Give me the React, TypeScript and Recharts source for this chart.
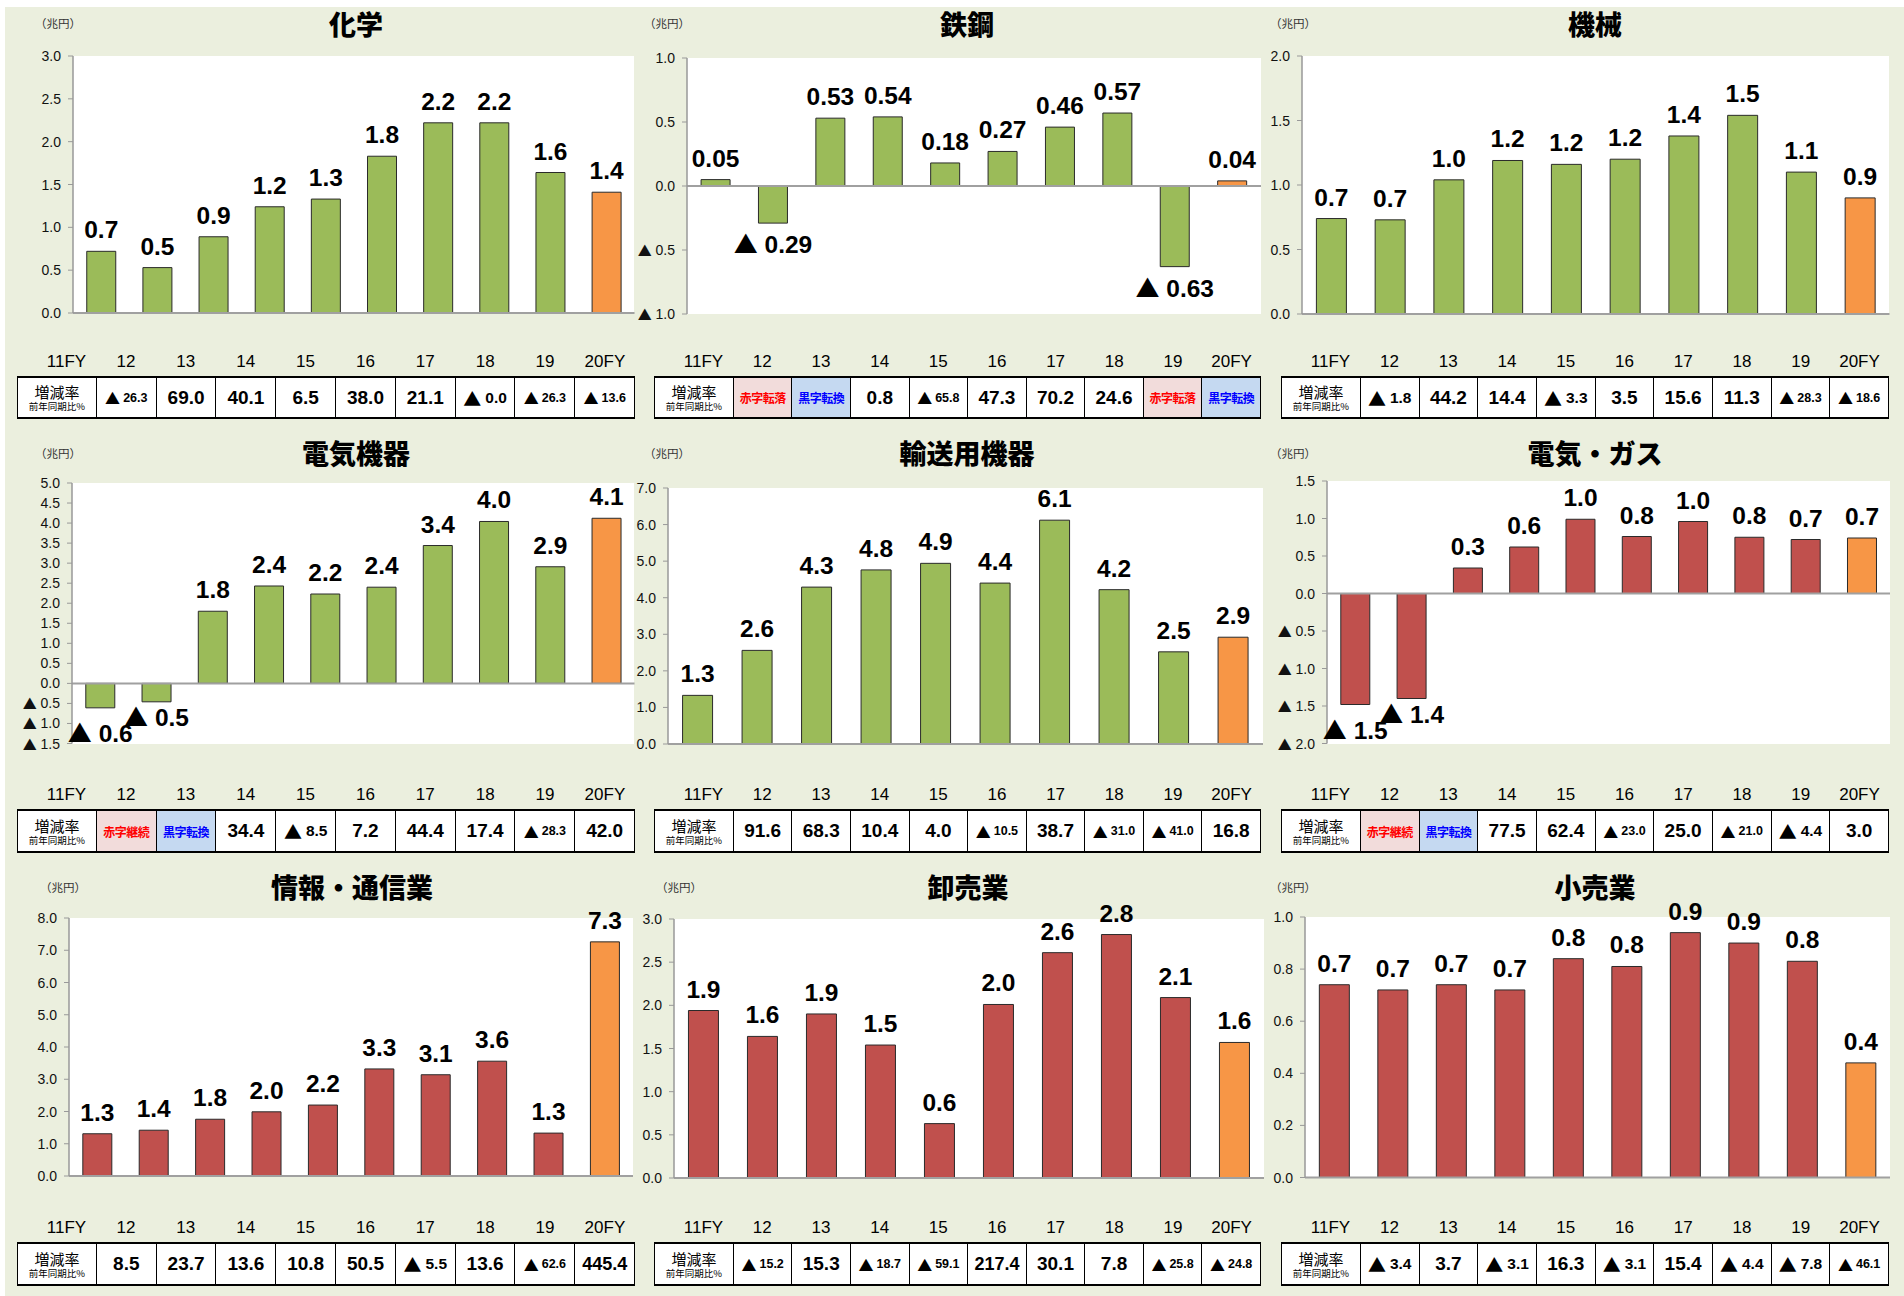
import React from 'react';
import { BarChart, Bar, XAxis, YAxis, Cell, LabelList, ReferenceLine } from 'recharts';

// ---------------- data ----------------
const years = ['11FY', '12', '13', '14', '15', '16', '17', '18', '19', '20FY'];

const chemicalValues = [0.72, 0.53, 0.89, 1.24, 1.33, 1.83, 2.22, 2.22, 1.64, 1.41];
const chemicalGrowth = ['▲ 26.3', '69.0', '40.1', '6.5', '38.0', '21.1', '▲ 0.0', '▲ 26.3', '▲ 13.6'];
const chemicalTicks = [0, 0.5, 1.0, 1.5, 2.0, 2.5, 3.0];

const steelValues = [0.05, -0.29, 0.53, 0.54, 0.18, 0.27, 0.46, 0.57, -0.63, 0.04];
const steelGrowth = ['赤字転落', '黒字転換', '0.8', '▲ 65.8', '47.3', '70.2', '24.6', '赤字転落', '黒字転換'];
const steelTicks = [-1.0, -0.5, 0, 0.5, 1.0];

const machineryValues = [0.74, 0.73, 1.04, 1.19, 1.16, 1.2, 1.38, 1.54, 1.1, 0.9];
const machineryGrowth = ['▲ 1.8', '44.2', '14.4', '▲ 3.3', '3.5', '15.6', '11.3', '▲ 28.3', '▲ 18.6'];
const machineryTicks = [0, 0.5, 1.0, 1.5, 2.0];

const electricValues = [-0.61, -0.46, 1.8, 2.43, 2.23, 2.4, 3.44, 4.04, 2.91, 4.12];
const electricGrowth = ['赤字継続', '黒字転換', '34.4', '▲ 8.5', '7.2', '44.4', '17.4', '▲ 28.3', '42.0'];
const electricTicks = [-1.5, -1.0, -0.5, 0, 0.5, 1.0, 1.5, 2.0, 2.5, 3.0, 3.5, 4.0, 4.5, 5.0];

const transportValues = [1.33, 2.56, 4.29, 4.76, 4.94, 4.4, 6.12, 4.22, 2.52, 2.92];
const transportGrowth = ['91.6', '68.3', '10.4', '4.0', '▲ 10.5', '38.7', '▲ 31.0', '▲ 41.0', '16.8'];
const transportTicks = [0, 1, 2, 3, 4, 5, 6, 7];

const utilityValues = [-1.48, -1.4, 0.34, 0.62, 0.99, 0.76, 0.96, 0.75, 0.72, 0.74];
const utilityGrowth = ['赤字継続', '黒字転換', '77.5', '62.4', '▲ 23.0', '25.0', '▲ 21.0', '▲ 4.4', '3.0'];
const utilityTicks = [-2.0, -1.5, -1.0, -0.5, 0, 0.5, 1.0, 1.5];

const ictValues = [1.31, 1.42, 1.76, 1.99, 2.2, 3.32, 3.14, 3.56, 1.33, 7.26];
const ictGrowth = ['8.5', '23.7', '13.6', '10.8', '50.5', '▲ 5.5', '13.6', '▲ 62.6', '445.4'];
const ictTicks = [0, 1, 2, 3, 4, 5, 6, 7, 8];

const wholesaleValues = [1.94, 1.64, 1.9, 1.54, 0.63, 2.01, 2.61, 2.82, 2.09, 1.57];
const wholesaleGrowth = ['▲ 15.2', '15.3', '▲ 18.7', '▲ 59.1', '217.4', '30.1', '7.8', '▲ 25.8', '▲ 24.8'];
const wholesaleTicks = [0, 0.5, 1.0, 1.5, 2.0, 2.5, 3.0];

const retailValues = [0.74, 0.72, 0.74, 0.72, 0.84, 0.81, 0.94, 0.9, 0.83, 0.44];
const retailGrowth = ['▲ 3.4', '3.7', '▲ 3.1', '16.3', '▲ 3.1', '15.4', '▲ 4.4', '▲ 7.8', '▲ 46.1'];
const retailTicks = [0, 0.2, 0.4, 0.6, 0.8, 1.0];

const panelTitles = ['化学', '鉄鋼', '機械', '電気機器', '輸送用機器', '電気・ガス', '情報・通信業', '卸売業', '小売業'];

// ---------------- styles ----------------
const GREEN = '#9BBB59';
const RED = '#C0504D';
const ORANGE = '#F79646';
const BG = '#EBEFDE';
const NUM = '"Liberation Sans", Arial, sans-serif';
const JP = '"Noto Sans CJK JP", "Noto Sans", sans-serif';

type Panel = { title: string; values: number[]; growth: string[]; ticks: number[]; decimals: number; color: string };

const panels: Panel[] = [
  { title: panelTitles[0], values: chemicalValues, growth: chemicalGrowth, ticks: chemicalTicks, decimals: 1, color: GREEN },
  { title: panelTitles[1], values: steelValues, growth: steelGrowth, ticks: steelTicks, decimals: 2, color: GREEN },
  { title: panelTitles[2], values: machineryValues, growth: machineryGrowth, ticks: machineryTicks, decimals: 1, color: GREEN },
  { title: panelTitles[3], values: electricValues, growth: electricGrowth, ticks: electricTicks, decimals: 1, color: GREEN },
  { title: panelTitles[4], values: transportValues, growth: transportGrowth, ticks: transportTicks, decimals: 1, color: GREEN },
  { title: panelTitles[5], values: utilityValues, growth: utilityGrowth, ticks: utilityTicks, decimals: 1, color: RED },
  { title: panelTitles[6], values: ictValues, growth: ictGrowth, ticks: ictTicks, decimals: 1, color: RED },
  { title: panelTitles[7], values: wholesaleValues, growth: wholesaleGrowth, ticks: wholesaleTicks, decimals: 1, color: RED },
  { title: panelTitles[8], values: retailValues, growth: retailGrowth, ticks: retailTicks, decimals: 1, color: RED },
];

type Layout = {
  plotL: number; plotR: number; plotT: number; plotB: number;
  titleX: number; titleY: number; unitX: number; unitY: number;
  labelY: number; tableL: number; tableR: number; tableT: number; tableB: number;
  negGap?: number[]; // distance (px) from a negative bar's end to its label baseline, per bar
};

const row1 = { titleY: 24, unitY: 23, labelY: 362, tableT: 376, tableB: 419 };
const row2 = { titleY: 453, unitY: 453, labelY: 795, tableT: 809, tableB: 853 };
const row3 = { titleY: 887, unitY: 887, labelY: 1228, tableT: 1242, tableB: 1286 };

const staggered = [34, 24, 30, 30, 30, 30, 30, 30, 30, 30];

const layouts: Layout[] = [
  { ...row1, plotL: 72.5, plotR: 634, plotT: 56, plotB: 313, titleX: 356, unitX: 35, tableL: 17, tableR: 635 },
  { ...row1, plotL: 687, plotR: 1261, plotT: 58, plotB: 314, titleX: 967, unitX: 644, tableL: 654, tableR: 1261 },
  { ...row1, plotL: 1301.5, plotR: 1889, plotT: 56, plotB: 314, titleX: 1595, unitX: 1270, tableL: 1281, tableR: 1889 },
  { ...row2, plotL: 71.5, plotR: 634, plotT: 483, plotB: 743.5, titleX: 356, unitX: 35, tableL: 17, tableR: 635, negGap: staggered },
  { ...row2, plotL: 668, plotR: 1263, plotT: 488, plotB: 744, titleX: 967, unitX: 644, tableL: 654, tableR: 1261 },
  { ...row2, plotL: 1327, plotR: 1890, plotT: 481, plotB: 743.5, titleX: 1595, unitX: 1270, tableL: 1281, tableR: 1889, negGap: staggered },
  { ...row3, plotL: 69, plotR: 633, plotT: 918, plotB: 1176, titleX: 352, unitX: 40, tableL: 17, tableR: 635 },
  { ...row3, plotL: 674, plotR: 1264, plotT: 919, plotB: 1178, titleX: 968, unitX: 656, tableL: 654, tableR: 1261 },
  { ...row3, plotL: 1305, plotR: 1890, plotT: 917, plotB: 1177.5, titleX: 1595, unitX: 1270, tableL: 1281, tableR: 1889 },
];

function GrowthCell({ text, width }: { text: string; width: number }) {
  const base: React.CSSProperties = {
    width, height: '100%', borderRight: '1px solid #000', boxSizing: 'border-box',
    display: 'flex', alignItems: 'center', justifyContent: 'center',
    fontFamily: NUM, fontWeight: 700, color: '#000', background: '#fff', whiteSpace: 'nowrap',
  };
  if (text === '赤字転落' || text === '赤字継続') {
    return <div style={{ ...base, background: '#F2DCDB', color: '#FF0000', fontFamily: JP, fontSize: 12, letterSpacing: -0.5 }}>{text}</div>;
  }
  if (text === '黒字転換') {
    return <div style={{ ...base, background: '#C5D9F1', color: '#0000FF', fontFamily: JP, fontSize: 12, letterSpacing: -0.5 }}>{text}</div>;
  }
  if (text.startsWith('▲')) {
    const num = text.replace('▲', '').trim();
    const small = num.length >= 4;
    return (
      <div style={base}>
        <span style={{ fontSize: small ? 15 : 18, fontFamily: JP }}>▲</span>
        <span style={{ fontSize: small ? 12.5 : 15.5, marginLeft: small ? 3 : 4 }}>{num}</span>
      </div>
    );
  }
  return <div style={{ ...base, fontSize: text.length >= 5 ? 18 : 19 }}>{text}</div>;
}

function GrowthTable({ l, growth }: { l: Layout; growth: string[] }) {
  const total = l.tableR - l.tableL;
  const firstW = 79;
  const colW = (total - firstW) / 9;
  return (
    <>
      <div style={{ position: 'absolute', left: l.tableL, top: l.labelY - 12, width: total, height: 24, display: 'flex' }}>
        {years.map((y, i) => (
          <div key={y} style={{
            width: i === 0 ? firstW : colW, boxSizing: 'border-box', paddingLeft: i === 0 ? 20 : 0,
            textAlign: 'center', fontFamily: NUM, fontSize: 17, lineHeight: '24px', color: '#000',
          }}>{y}</div>
        ))}
      </div>
      <div style={{
        position: 'absolute', left: l.tableL, top: l.tableT, width: total, height: l.tableB - l.tableT,
        display: 'flex', borderTop: '2px solid #000', borderBottom: '2px solid #000', borderLeft: '1px solid #000',
        boxSizing: 'border-box', background: '#fff',
      }}>
        <div style={{
          width: firstW, height: '100%', borderRight: '1px solid #000', boxSizing: 'border-box',
          display: 'flex', flexDirection: 'column', alignItems: 'center', justifyContent: 'center', fontFamily: JP, color: '#000',
        }}>
          <div style={{ fontSize: 15, lineHeight: '17px' }}>増減率</div>
          <div style={{ fontSize: 9.5, lineHeight: '12px' }}>前年同期比%</div>
        </div>
        {growth.map((g, i) => <GrowthCell key={i} text={g} width={colW} />)}
      </div>
    </>
  );
}

function YTick(props: any) {
  const { x, y, payload } = props;
  const v = Number(payload?.value);
  const neg = v < 0;
  return (
    <text x={x} y={y} textAnchor="end" dominantBaseline="central" fontSize={14} fill="#111" fontFamily={NUM}>
      {neg ? <tspan fontFamily={JP} fontSize={14}>▲</tspan> : null}
      {neg ? ' ' + Math.abs(v).toFixed(1) : v.toFixed(1)}
    </text>
  );
}

function PanelChart({ p, l }: { p: Panel; l: Layout }) {
  const data = years.map((y, i) => ({ year: y, v: p.values[i] }));
  const yw = 72;
  const mTop = 40;
  const mBottom = 20;
  const mRight = 6;
  const plotW = l.plotR - l.plotL;
  const plotH = l.plotB - l.plotT;
  const w = plotW + yw + mRight;
  const h = plotH + mTop + mBottom;
  const min = p.ticks[0];
  const max = p.ticks[p.ticks.length - 1];

  const renderLabel = (props: any) => {
    const vb = props.viewBox || {};
    const x = props.x ?? vb.x;
    const y = props.y ?? vb.y;
    const width = props.width ?? vb.width;
    const height = props.height ?? vb.height;
    const idx = props.index;
    const value = typeof idx === 'number' ? p.values[idx] : Number(props.value);
    const top = Math.min(y, y + height);
    const bottom = Math.max(y, y + height);
    const cx = x + width / 2;
    const neg = value < 0;
    const gap = l.negGap && typeof idx === 'number' ? l.negGap[idx] : 30;
    return (
      <text
        x={cx}
        y={neg ? bottom + gap : top - 13}
        textAnchor="middle"
        fontFamily={NUM}
        fontWeight={700}
        fontSize={24.5}
        fill="#000"
      >
        {neg ? <tspan fontFamily={JP} fontSize={24}>▲</tspan> : null}
        {neg ? ' ' + Math.abs(value).toFixed(p.decimals) : value.toFixed(p.decimals)}
      </text>
    );
  };

  return (
    <>
      <div style={{ position: 'absolute', left: l.plotL, top: l.plotT, width: plotW, height: plotH, background: '#fff' }} />
      <div style={{
        position: 'absolute', left: l.titleX - 200, top: l.titleY - 19, width: 400, height: 38,
        textAlign: 'center', fontFamily: JP, fontWeight: 900, fontSize: 27, lineHeight: '38px', color: '#000',
      }}>{p.title}</div>
      <div style={{
        position: 'absolute', left: l.unitX, top: l.unitY - 8, height: 16, lineHeight: '16px',
        fontFamily: JP, fontSize: 11.5, color: '#333', whiteSpace: 'nowrap',
      }}>（兆円）</div>
      <div style={{ position: 'absolute', left: l.plotL - yw, top: l.plotT - mTop }}>
        <BarChart
          width={w}
          height={h}
          data={data}
          margin={{ top: mTop, right: mRight, bottom: mBottom, left: 0 }}
          barCategoryGap="24.5%"
        >
          <XAxis dataKey="year" hide />
          <YAxis
            type="number"
            domain={[min, max]}
            ticks={p.ticks}
            interval={0}
            allowDataOverflow
            width={yw}
            axisLine={{ stroke: '#999', strokeWidth: 1.5 }}
            tickLine={{ stroke: '#999' }}
            tickSize={5}
            tickMargin={7}
            tick={YTick}
          />
          <Bar dataKey="v" isAnimationActive={false} stroke="#2a2a2a" strokeWidth={1}>
            {data.map((d, i) => (
              <Cell key={d.year} fill={i === data.length - 1 ? ORANGE : p.color} />
            ))}
            <LabelList dataKey="v" content={renderLabel} />
          </Bar>
          <ReferenceLine y={0} stroke="#A0A0A0" strokeWidth={2} />
        </BarChart>
      </div>
      <GrowthTable l={l} growth={p.growth} />
    </>
  );
}

export default function App() {
  return (
    <div style={{ position: 'absolute', left: 0, top: 0, width: 1904, height: 1296, background: '#fff', overflow: 'hidden', fontFamily: NUM }}>
      <div style={{ position: 'absolute', left: 5, top: 7, right: 0, bottom: 0, background: BG }} />
      {panels.map((p, i) => (
        <PanelChart key={p.title} p={p} l={layouts[i]} />
      ))}
    </div>
  );
}
